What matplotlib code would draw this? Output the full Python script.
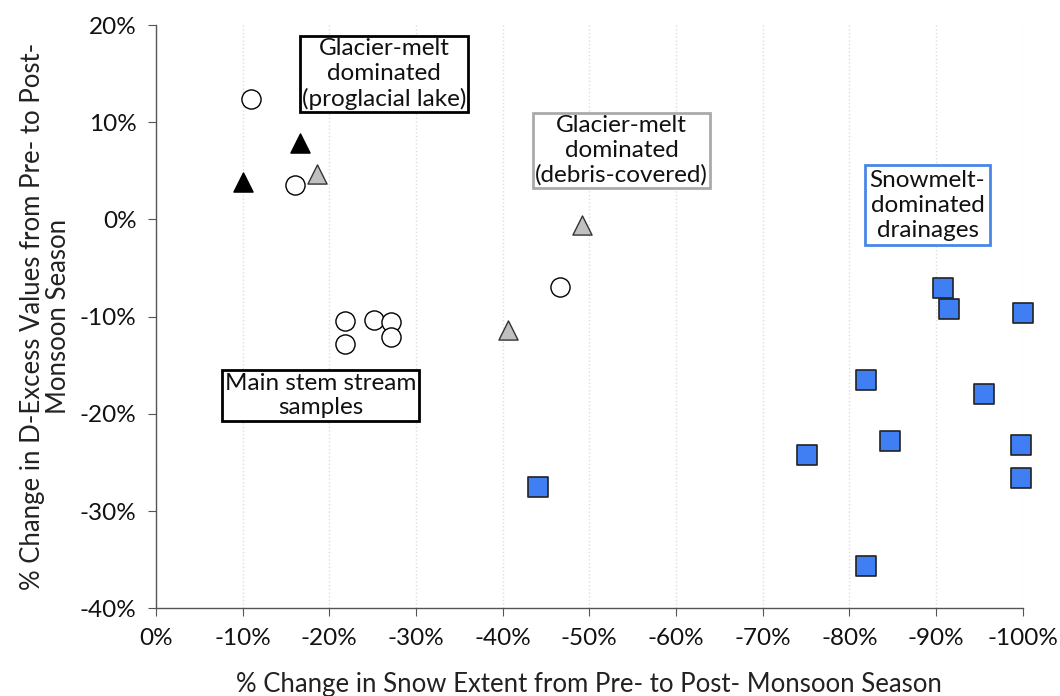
import matplotlib
matplotlib.use("Agg")
import matplotlib.pyplot as plt
from matplotlib.ticker import FuncFormatter, MultipleLocator

plt.rcParams['font.family'] = ['Lato', 'DejaVu Sans']

# main stem stream samples (open circles)
circle_x = [-11.0, -16.1, -21.8, -25.2, -27.1, -21.8, -27.1, -46.6]
circle_y = [12.4, 3.5, -10.4, -10.3, -10.5, -12.8, -12.1, -6.9]

# glacier-melt, proglacial lake (black triangles)
black_tri_x = [-10.0, -16.6]
black_tri_y = [3.9, 7.9]

# glacier-melt, debris-covered (gray triangles)
gray_tri_x = [-18.6, -40.6, -49.1]
gray_tri_y = [4.7, -11.4, -0.6]

# snowmelt-dominated drainages (blue squares)
square_x = [-44.1, -75.1, -81.9, -81.9, -84.7, -90.8, -91.5, -95.5, -100.0, -99.8, -99.8]
square_y = [-27.5, -24.2, -16.5, -35.6, -22.8, -7.0, -9.2, -18.0, -9.6, -23.2, -26.6]

fig = plt.figure(figsize=(10.6, 6.96), dpi=100)
ax = fig.add_axes([0.147, 0.126, 0.818, 0.838])

ms = 190
ax.scatter(circle_x, circle_y, s=ms, marker='o', facecolor='white',
           edgecolor='black', linewidth=1.0, clip_on=False, zorder=3)
ax.scatter(black_tri_x, black_tri_y, s=ms, marker='^', facecolor='black',
           edgecolor='black', linewidth=1.0, clip_on=False, zorder=3)
ax.scatter(gray_tri_x, gray_tri_y, s=ms, marker='^', facecolor='#c0c0c0',
           edgecolor='#333333', linewidth=1.0, clip_on=False, zorder=3)
ax.scatter(square_x, square_y, s=ms, marker='s', facecolor='#3f7ef3',
           edgecolor='#222222', linewidth=1.2, clip_on=False, zorder=3)

ax.set_xlim(0, -100)
ax.set_ylim(-40, 20)
ax.xaxis.set_major_locator(MultipleLocator(10))
ax.yaxis.set_major_locator(MultipleLocator(10))
pct = FuncFormatter(lambda v, p: f"{int(round(v))}%")
ax.xaxis.set_major_formatter(pct)
ax.yaxis.set_major_formatter(pct)

ax.grid(axis='x', color='#dddddd', linestyle=':', linewidth=1.0)
ax.set_axisbelow(True)
for s in ['top', 'right']:
    ax.spines[s].set_visible(False)
for s in ['left', 'bottom']:
    ax.spines[s].set_color('#555555')
    ax.spines[s].set_linewidth(1.0)
ax.tick_params(axis='both', direction='out', length=6, color='#555555',
               labelsize=17.5, labelcolor='#111111', pad=8)

ax.set_xlabel('% Change in Snow Extent from Pre- to Post- Monsoon Season',
              fontsize=18.5, color='#222222', labelpad=17)
ax.set_ylabel('% Change in D-Excess Values from Pre- to Post-\nMonsoon Season',
              fontsize=18.5, color='#222222', labelpad=6, linespacing=1.05)

txt = dict(fontsize=17.5, ha='center', va='center', linespacing=1.22, color='#111111', zorder=4)
ax.text(-26.3, 14.95, 'Glacier-melt\ndominated\n(proglacial lake)',
        bbox=dict(boxstyle='square,pad=0.08', fc='white', ec='black', lw=2), **txt)
ax.text(-53.7, 7.1, 'Glacier-melt\ndominated\n(debris-covered)',
        bbox=dict(boxstyle='square,pad=0.08', fc='white', ec='#aaaaaa', lw=2), **txt)
ax.text(-89.0, 1.45, 'Snowmelt-\ndominated\ndrainages',
        bbox=dict(boxstyle='square,pad=0.2', fc='white', ec='#4a86e8', lw=2), **txt)
ax.text(-19.0, -18.1, 'Main stem stream\nsamples',
        bbox=dict(boxstyle='square,pad=0.1', fc='white', ec='black', lw=2), **txt)

fig.savefig('out.png', dpi=100)
